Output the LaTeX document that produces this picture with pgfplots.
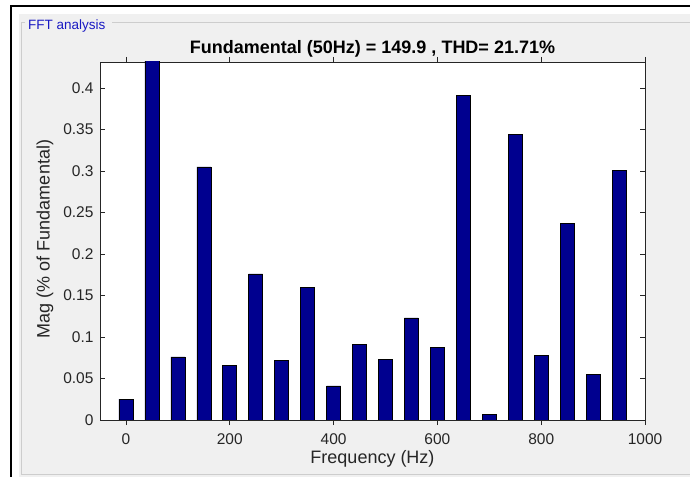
\documentclass[border=0pt]{standalone}
\usepackage{pgfplots}
\pgfplotsset{compat=1.18}
\usepackage{fontspec}
\setmainfont{Liberation Sans}

\definecolor{panelgray}{RGB}{240,240,240}
\definecolor{boxline}{RGB}{205,205,205}
\definecolor{axgray}{RGB}{38,38,38}
\definecolor{barblue}{RGB}{0,0,143}
\definecolor{titleblue}{RGB}{25,25,195}

% Harmonic spectrum: frequency (Hz) vs magnitude
\pgfplotstableread{
freq  mag
0     0.025
50    100
100   0.076
150   0.305
200   0.066
250   0.176
300   0.072
350   0.160
400   0.041
450   0.091
500   0.073
550   0.123
600   0.087
650   0.391
700   0.007
750   0.344
800   0.078
850   0.237
900   0.055
950   0.301
}\spectrum

\begin{document}
\begin{tikzpicture}
\useasboundingbox (0bp,0bp) rectangle (690bp,477bp);
\fill[white] (0bp,0bp) rectangle (690bp,477bp);
% window frame and panel
\fill[panelgray] (19bp,0bp) rectangle (690bp,463bp);
\draw[black,line width=2.5bp] (11bp,0bp) -- (11bp,471bp) -- (690bp,471bp);
% group box
\draw[boxline,line width=1bp] (112bp,454bp) -- (690bp,454bp);
\draw[boxline,line width=1bp] (25bp,454bp) -- (21bp,454bp) -- (21bp,2bp) -- (690bp,2bp);
\node[anchor=base west,text=titleblue,font=\fontsize{13.5bp}{16bp}\selectfont,inner sep=0] at (28bp,447bp) {FFT analysis};

\begin{axis}[
  at={(100bp,57bp)}, anchor=south west,
  scale only axis, width=545bp, height=358bp,
  xmin=-50, xmax=1000, ymin=0, ymax=0.4313,
  axis background/.style={fill=white},
  axis line style={axgray, line width=0.8bp},
  tick style={axgray, line width=0.8bp},
  major tick length=5bp,
  tick align=inside,
  xtick pos=both, ytick pos=both,
  xtick={0,200,400,600,800,1000},
  xticklabels={0,200,400,600,800,1000},
  ytick={0,0.05,0.1,0.15,0.2,0.25,0.3,0.35,0.4},
  yticklabels={0,0.05,0.1,0.15,0.2,0.25,0.3,0.35,0.4},
  ticklabel style={font=\fontsize{15.5bp}{18bp}\selectfont, text=axgray},
  xticklabel style={yshift=-5bp},
  yticklabel style={xshift=-3bp},
  ybar, bar width=27,
  clip=true,
]
% the fundamental (100 %) runs off the top of the axis
\addplot[fill=barblue, draw=black, line width=0.6bp,
  restrict y to domain*=0:0.6] table[x=freq,y=mag] {\spectrum};
\end{axis}

\node[font=\bfseries\fontsize{18bp}{20bp}\selectfont, text=black] at (372.5bp,428.5bp) {Fundamental (50Hz) = 149.9 , THD= 21.71\%};
\node[font=\fontsize{18bp}{20bp}\selectfont, text=axgray] at (372.5bp,18bp) {Frequency (Hz)};
\node[font=\fontsize{18bp}{20bp}\selectfont, text=axgray, rotate=90] at (45bp,238bp) {Mag (\% of Fundamental)};
\end{tikzpicture}
\end{document}
